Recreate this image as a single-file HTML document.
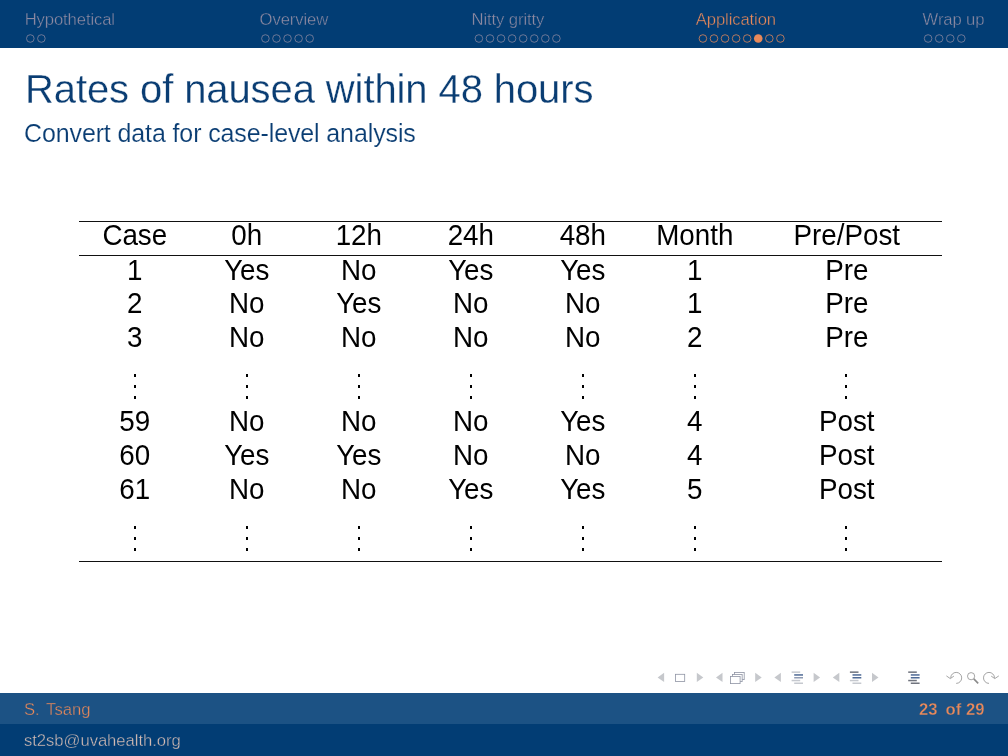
<!DOCTYPE html>
<html><head><meta charset="utf-8"><title>Rates of nausea within 48 hours</title>
<style>
html,body{margin:0;padding:0;background:#fff;}
body{width:1008px;height:756px;position:relative;overflow:hidden;font-family:"Liberation Sans",sans-serif;}
.hd{position:absolute;left:0;top:0;width:1008px;height:47.5px;background:#023d74;}
.nav{-webkit-text-stroke:0.35px #023d74;position:absolute;top:9.7px;font-size:16.67px;line-height:20px;color:#8d8aa2;white-space:nowrap;letter-spacing:-0.12px;}
.nav.on{color:#e8895a;}
.dots{position:absolute;left:0;top:0;}
.title{-webkit-text-stroke:0.3px #fff;transform:scaleY(1.035);transform-origin:0 36.6px;position:absolute;left:25px;top:66px;font-size:40px;line-height:46px;color:#0a3d73;white-space:nowrap;letter-spacing:-0.1px;}
.sub{-webkit-text-stroke:0.15px #fff;transform:scaleY(1.03);transform-origin:0 23.3px;position:absolute;left:24px;top:118px;font-size:25px;line-height:30px;color:#0a3d73;white-space:nowrap;letter-spacing:-0.12px;}
.rule{position:absolute;left:78.8px;width:863px;height:1px;background:#111;}
.c{transform:scaleY(1.03);transform-origin:50% 25.2px;position:absolute;width:160px;text-align:center;font-size:27.78px;line-height:32px;color:#000;white-space:nowrap;}
.vd{position:absolute;width:3px;}
.vd i{position:absolute;left:0;width:2.2px;height:3.1px;background:#000;}
.f1{position:absolute;left:0;top:693px;width:1008px;height:31px;background:#1c5284;}
.f2{position:absolute;left:0;top:724px;width:1008px;height:32px;background:#023d74;}
.ft{position:absolute;font-size:16.67px;line-height:20px;white-space:nowrap;}
</style></head><body>
<div class="hd"></div>

<div class="nav" style="left:24.7px">Hypothetical</div>
<div class="nav" style="left:259.6px">Overview</div>
<div class="nav" style="left:471.6px">Nitty gritty</div>
<div class="nav on" style="left:695.8px">Application</div>
<div class="nav" style="left:922.6px">Wrap up</div>
<svg class="dots" width="1008" height="48" viewBox="0 0 1008 48"><circle cx="30.30" cy="38.5" r="3.8" fill="none" stroke="#8d8aa2" stroke-width="0.75"/><circle cx="41.37" cy="38.5" r="3.8" fill="none" stroke="#8d8aa2" stroke-width="0.75"/><circle cx="265.40" cy="38.5" r="3.8" fill="none" stroke="#8d8aa2" stroke-width="0.75"/><circle cx="276.47" cy="38.5" r="3.8" fill="none" stroke="#8d8aa2" stroke-width="0.75"/><circle cx="287.54" cy="38.5" r="3.8" fill="none" stroke="#8d8aa2" stroke-width="0.75"/><circle cx="298.61" cy="38.5" r="3.8" fill="none" stroke="#8d8aa2" stroke-width="0.75"/><circle cx="309.68" cy="38.5" r="3.8" fill="none" stroke="#8d8aa2" stroke-width="0.75"/><circle cx="478.90" cy="38.5" r="3.8" fill="none" stroke="#8d8aa2" stroke-width="0.75"/><circle cx="489.97" cy="38.5" r="3.8" fill="none" stroke="#8d8aa2" stroke-width="0.75"/><circle cx="501.04" cy="38.5" r="3.8" fill="none" stroke="#8d8aa2" stroke-width="0.75"/><circle cx="512.11" cy="38.5" r="3.8" fill="none" stroke="#8d8aa2" stroke-width="0.75"/><circle cx="523.18" cy="38.5" r="3.8" fill="none" stroke="#8d8aa2" stroke-width="0.75"/><circle cx="534.25" cy="38.5" r="3.8" fill="none" stroke="#8d8aa2" stroke-width="0.75"/><circle cx="545.32" cy="38.5" r="3.8" fill="none" stroke="#8d8aa2" stroke-width="0.75"/><circle cx="556.39" cy="38.5" r="3.8" fill="none" stroke="#8d8aa2" stroke-width="0.75"/><circle cx="702.90" cy="38.5" r="3.8" fill="none" stroke="#e8895a" stroke-width="0.75"/><circle cx="713.97" cy="38.5" r="3.8" fill="none" stroke="#e8895a" stroke-width="0.75"/><circle cx="725.04" cy="38.5" r="3.8" fill="none" stroke="#e8895a" stroke-width="0.75"/><circle cx="736.11" cy="38.5" r="3.8" fill="none" stroke="#e8895a" stroke-width="0.75"/><circle cx="747.18" cy="38.5" r="3.8" fill="none" stroke="#e8895a" stroke-width="0.75"/><circle cx="758.25" cy="38.5" r="4.3" fill="#e8895a"/><circle cx="769.32" cy="38.5" r="3.8" fill="none" stroke="#e8895a" stroke-width="0.75"/><circle cx="780.39" cy="38.5" r="3.8" fill="none" stroke="#e8895a" stroke-width="0.75"/><circle cx="928.10" cy="38.5" r="3.8" fill="none" stroke="#8d8aa2" stroke-width="0.75"/><circle cx="939.17" cy="38.5" r="3.8" fill="none" stroke="#8d8aa2" stroke-width="0.75"/><circle cx="950.24" cy="38.5" r="3.8" fill="none" stroke="#8d8aa2" stroke-width="0.75"/><circle cx="961.31" cy="38.5" r="3.8" fill="none" stroke="#8d8aa2" stroke-width="0.75"/></svg>
<div class="title">Rates of nausea within 48 hours</div>
<div class="sub">Convert data for case-level analysis</div>
<div class="rule" style="top:221px"></div>
<div class="rule" style="top:255px"></div>
<div class="rule" style="top:561px"></div>
<div class="c" style="left:54.8px;top:220px">Case</div>
<div class="c" style="left:166.8px;top:220px">0h</div>
<div class="c" style="left:278.8px;top:220px">12h</div>
<div class="c" style="left:390.8px;top:220px">24h</div>
<div class="c" style="left:502.8px;top:220px">48h</div>
<div class="c" style="left:614.8px;top:220px">Month</div>
<div class="c" style="left:766.8px;top:220px">Pre/Post</div>
<div class="c" style="left:54.8px;top:255px">1</div>
<div class="c" style="left:166.8px;top:255px">Yes</div>
<div class="c" style="left:278.8px;top:255px">No</div>
<div class="c" style="left:390.8px;top:255px">Yes</div>
<div class="c" style="left:502.8px;top:255px">Yes</div>
<div class="c" style="left:614.8px;top:255px">1</div>
<div class="c" style="left:766.8px;top:255px">Pre</div>
<div class="c" style="left:54.8px;top:288px">2</div>
<div class="c" style="left:166.8px;top:288px">No</div>
<div class="c" style="left:278.8px;top:288px">Yes</div>
<div class="c" style="left:390.8px;top:288px">No</div>
<div class="c" style="left:502.8px;top:288px">No</div>
<div class="c" style="left:614.8px;top:288px">1</div>
<div class="c" style="left:766.8px;top:288px">Pre</div>
<div class="c" style="left:54.8px;top:322px">3</div>
<div class="c" style="left:166.8px;top:322px">No</div>
<div class="c" style="left:278.8px;top:322px">No</div>
<div class="c" style="left:390.8px;top:322px">No</div>
<div class="c" style="left:502.8px;top:322px">No</div>
<div class="c" style="left:614.8px;top:322px">2</div>
<div class="c" style="left:766.8px;top:322px">Pre</div>
<div class="c" style="left:54.8px;top:406px">59</div>
<div class="c" style="left:166.8px;top:406px">No</div>
<div class="c" style="left:278.8px;top:406px">No</div>
<div class="c" style="left:390.8px;top:406px">No</div>
<div class="c" style="left:502.8px;top:406px">Yes</div>
<div class="c" style="left:614.8px;top:406px">4</div>
<div class="c" style="left:766.8px;top:406px">Post</div>
<div class="c" style="left:54.8px;top:440px">60</div>
<div class="c" style="left:166.8px;top:440px">Yes</div>
<div class="c" style="left:278.8px;top:440px">Yes</div>
<div class="c" style="left:390.8px;top:440px">No</div>
<div class="c" style="left:502.8px;top:440px">No</div>
<div class="c" style="left:614.8px;top:440px">4</div>
<div class="c" style="left:766.8px;top:440px">Post</div>
<div class="c" style="left:54.8px;top:474px">61</div>
<div class="c" style="left:166.8px;top:474px">No</div>
<div class="c" style="left:278.8px;top:474px">No</div>
<div class="c" style="left:390.8px;top:474px">Yes</div>
<div class="c" style="left:502.8px;top:474px">Yes</div>
<div class="c" style="left:614.8px;top:474px">5</div>
<div class="c" style="left:766.8px;top:474px">Post</div>
<div class="vd" style="left:133.8px;top:374px"><i style="top:0"></i><i style="top:11px"></i><i style="top:22px"></i></div>
<div class="vd" style="left:245.8px;top:374px"><i style="top:0"></i><i style="top:11px"></i><i style="top:22px"></i></div>
<div class="vd" style="left:357.8px;top:374px"><i style="top:0"></i><i style="top:11px"></i><i style="top:22px"></i></div>
<div class="vd" style="left:469.8px;top:374px"><i style="top:0"></i><i style="top:11px"></i><i style="top:22px"></i></div>
<div class="vd" style="left:581.8px;top:374px"><i style="top:0"></i><i style="top:11px"></i><i style="top:22px"></i></div>
<div class="vd" style="left:693.8px;top:374px"><i style="top:0"></i><i style="top:11px"></i><i style="top:22px"></i></div>
<div class="vd" style="left:844.9px;top:374px"><i style="top:0"></i><i style="top:11px"></i><i style="top:22px"></i></div>
<div class="vd" style="left:133.8px;top:526px"><i style="top:0"></i><i style="top:11px"></i><i style="top:22px"></i></div>
<div class="vd" style="left:245.8px;top:526px"><i style="top:0"></i><i style="top:11px"></i><i style="top:22px"></i></div>
<div class="vd" style="left:357.8px;top:526px"><i style="top:0"></i><i style="top:11px"></i><i style="top:22px"></i></div>
<div class="vd" style="left:469.8px;top:526px"><i style="top:0"></i><i style="top:11px"></i><i style="top:22px"></i></div>
<div class="vd" style="left:581.8px;top:526px"><i style="top:0"></i><i style="top:11px"></i><i style="top:22px"></i></div>
<div class="vd" style="left:693.8px;top:526px"><i style="top:0"></i><i style="top:11px"></i><i style="top:22px"></i></div>
<div class="vd" style="left:844.9px;top:526px"><i style="top:0"></i><i style="top:11px"></i><i style="top:22px"></i></div>
<div class="f1"></div><div class="f2"></div>
<div class="ft" style="left:24px;top:700.2px;color:#e8895a;word-spacing:2px;-webkit-text-stroke:0.35px #1c5284">S. Tsang</div>
<div class="ft" style="left:24px;top:731px;color:#d2bbb4;letter-spacing:-0.05px;-webkit-text-stroke:0.35px #023d74">st2sb@uvahealth.org</div>
<div class="ft" style="right:23.5px;top:700px;color:#e8895a;font-weight:bold;-webkit-text-stroke:0.3px #1c5284">23<span style="margin-left:8px">of 29</span></div>
<svg style="position:absolute;left:640px;top:660px" width="368" height="33" viewBox="640 660 368 33"><path d="M657.6 677.4L664.1 672.8V682.0Z" fill="#c6c8cc"/><path d="M703.3 677.4L696.8 672.8V682.0Z" fill="#c6c8cc"/><path d="M716.0 677.4L722.5 672.8V682.0Z" fill="#c6c8cc"/><path d="M761.7 677.4L755.2 672.8V682.0Z" fill="#c6c8cc"/><path d="M774.4 677.4L780.9 672.8V682.0Z" fill="#c6c8cc"/><path d="M820.1 677.4L813.6 672.8V682.0Z" fill="#c6c8cc"/><path d="M832.8 677.4L839.3 672.8V682.0Z" fill="#c6c8cc"/><path d="M878.5 677.4L872.0 672.8V682.0Z" fill="#c6c8cc"/><rect x="675.4" y="674.3" width="9.3" height="7.2" fill="none" stroke="#8f94a4" stroke-width="0.8"/><rect x="734.60" y="672.40" width="9.6" height="7.2" fill="#fff" stroke="#8f94a4" stroke-width="0.8"/><rect x="732.55" y="674.40" width="9.6" height="7.2" fill="#fff" stroke="#8f94a4" stroke-width="0.8"/><rect x="730.50" y="676.40" width="9.6" height="7.2" fill="#fff" stroke="#8f94a4" stroke-width="0.8"/><rect x="791.6" y="671.4" width="8.6" height="1.5" fill="#c6c9cf"/><rect x="794.2" y="674.2" width="8.8" height="1.5" fill="#4f6a96"/><rect x="794.2" y="677.0" width="8.8" height="1.5" fill="#8f9bb3"/><rect x="791.6" y="679.8" width="8.6" height="1.5" fill="#c6c9cf"/><rect x="794.2" y="682.5" width="8.8" height="1.5" fill="#c6c9cf"/><rect x="849.9" y="671.4" width="8.6" height="1.5" fill="#70747e"/><rect x="852.5" y="674.2" width="8.8" height="1.5" fill="#4f6a96"/><rect x="852.5" y="677.0" width="8.8" height="1.5" fill="#4f6a96"/><rect x="849.9" y="679.8" width="8.6" height="1.5" fill="#c6c9cf"/><rect x="852.5" y="682.5" width="8.8" height="1.5" fill="#c6c9cf"/><rect x="908.2" y="671.4" width="8.6" height="1.5" fill="#70747e"/><rect x="910.8" y="674.2" width="8.8" height="1.5" fill="#4f6a96"/><rect x="910.8" y="677.0" width="8.8" height="1.5" fill="#4f6a96"/><rect x="908.2" y="679.8" width="8.6" height="1.5" fill="#70747e"/><rect x="910.8" y="682.5" width="8.8" height="1.5" fill="#70747e"/><path d="M950.7 677.9A5.5 5.5 0 1 1 956.2 683.4" fill="none" stroke="#8e8e8e" stroke-width="0.8"/><path d="M946.4 675.9L950.3 678.6L953.9 676.1" fill="none" stroke="#8e8e8e" stroke-width="0.8"/><circle cx="971.1" cy="676.2" r="3.6" fill="none" stroke="#8e8e8e" stroke-width="0.8"/><path d="M973.8 678.9L978.2 683.4" fill="none" stroke="#8a8a8a" stroke-width="1.6"/><path d="M994.5 677.9A5.5 5.5 0 1 0 989 683.4" fill="none" stroke="#8e8e8e" stroke-width="0.8"/><path d="M991.2 676.1L994.8 678.6L998.8 675.9" fill="none" stroke="#8e8e8e" stroke-width="0.8"/></svg>
</body></html>
